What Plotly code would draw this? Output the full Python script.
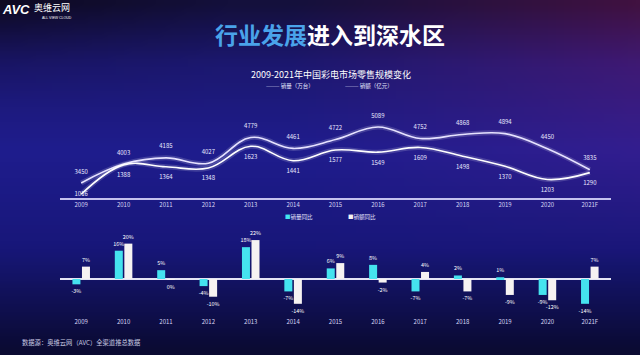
import base64
import struct
import zlib

import plotly.graph_objects as go

years = ["2009", "2010", "2011", "2012", "2013", "2014", "2015", "2016", "2017", "2018", "2019", "2020", "2021F"]
sales_volume = [3450, 4003, 4185, 4027, 4779, 4461, 4722, 5089, 4752, 4868, 4894, 4450, 3835]   # 万台
sales_value = [1016, 1388, 1364, 1348, 1623, 1441, 1577, 1549, 1609, 1498, 1370, 1203, 1290]     # 亿元
volume_yoy = [-3, 16, 5, -4, 18, -7, 6, 8, -7, 2, 1, -9, -14]
value_yoy = [7, 20, -0.4, -10, 22, -14, 9, -2, 4, -7, -9, -12, 7]

FONT = "Noto Sans CJK SC"
W, H = 640, 355


def py(px):
    return 1 - px / H


# ---------- background gradient image (styling only) ----------
def bg_png(w=80, h=45):
    stops = [(0.00, (20, 16, 60)), (0.17, (28, 24, 112)), (0.42, (31, 29, 142)),
             (0.70, (24, 23, 122)), (1.00, (11, 11, 50))]
    rows = []
    for j in range(h):
        t = j / (h - 1)
        for k in range(len(stops) - 1):
            if stops[k][0] <= t <= stops[k + 1][0]:
                u = (t - stops[k][0]) / (stops[k + 1][0] - stops[k][0])
                base = [stops[k][1][c] + u * (stops[k + 1][1][c] - stops[k][1][c]) for c in range(3)]
                break
        row = bytearray([0])
        for i in range(w):
            s = i / (w - 1)
            wr = max(0.0, (s - 0.45) / 0.55) * max(0.0, 1 - t / 0.75)
            wl = max(0.0, (0.35 - s) / 0.35) * max(0.0, 1 - t / 0.3)
            r = base[0] + 45 * wr - 6 * wl
            g = base[1] + 2 * wr - 6 * wl
            b = base[2] + 5 * wr - 25 * wl
            row += bytes([max(0, min(255, int(r))), max(0, min(255, int(g))), max(0, min(255, int(b)))])
        rows.append(bytes(row))
    raw = b"".join(rows)

    def chunk(tag, data):
        c = struct.pack(">I", len(data)) + tag + data
        return c + struct.pack(">I", zlib.crc32(tag + data) & 0xFFFFFFFF)

    png = b"\x89PNG\r\n\x1a\n" + chunk(b"IHDR", struct.pack(">IIBBBBB", w, h, 8, 2, 0, 0, 0)) \
        + chunk(b"IDAT", zlib.compress(raw, 9)) + chunk(b"IEND", b"")
    return "data:image/png;base64," + base64.b64encode(png).decode()


fig = go.Figure()
SMALL = 6
BARTXT = 5.4

# glow under the lines
for vals, ax in ((sales_volume, "y"), (sales_value, "y2")):
    fig.add_trace(go.Scatter(x=years, y=vals, xaxis="x", yaxis=ax, mode="lines",
                             line=dict(color="rgba(255,255,255,0.16)", width=5, shape="spline", smoothing=1.1),
                             hoverinfo="skip", showlegend=False))

# invisible markers only push the value labels away from the line
fig.add_trace(go.Scatter(x=years, y=sales_volume, xaxis="x", yaxis="y", mode="lines+markers+text",
                         name="销量（万台）", text=[str(v) for v in sales_volume], textposition="top center",
                         textfont=dict(size=SMALL, color="#e8e8ff", family=FONT),
                         marker=dict(size=11, opacity=0),
                         line=dict(color="#e6e2ff", width=1.6, shape="spline", smoothing=1.1),
                         cliponaxis=False, showlegend=False))
value_pos = ["middle center"] + ["bottom center"] * (len(years) - 1)
fig.add_trace(go.Scatter(x=years, y=sales_value, xaxis="x", yaxis="y2", mode="lines+markers+text",
                         name="销额（亿元）", text=[str(v) for v in sales_value], textposition=value_pos,
                         textfont=dict(size=SMALL, color="#e8e8ff", family=FONT),
                         marker=dict(size=11, opacity=0),
                         line=dict(color="#ffffff", width=1.6, shape="spline", smoothing=1.1),
                         cliponaxis=False, showlegend=False))

BAR_COLORS = ["#45e3ef", "#f6f2f2"]
fig.add_trace(go.Bar(x=years, y=volume_yoy, xaxis="x2", yaxis="y3", name="销量同比",
                     marker=dict(color=BAR_COLORS[0], line=dict(width=0)),
                     text=[f"{round(v)}%" for v in volume_yoy], textposition="outside",
                     textfont=dict(size=BARTXT, color="#ffffff", family=FONT), constraintext="none",
                     cliponaxis=False, showlegend=False))
fig.add_trace(go.Bar(x=years, y=value_yoy, xaxis="x2", yaxis="y3", name="销额同比",
                     marker=dict(color=BAR_COLORS[1], line=dict(width=0)),
                     text=[f"{round(v)}%" for v in value_yoy], textposition="outside",
                     textfont=dict(size=BARTXT, color="#ffffff", family=FONT), constraintext="none",
                     cliponaxis=False, showlegend=False))

xdom = [60 / W, 611 / W]
axfont = dict(size=SMALL, color="#d6d6f4", family=FONT)

fig.update_layout(
    width=W, height=H,
    margin=dict(l=0, r=0, t=0, b=0),
    paper_bgcolor="#1b1870",
    plot_bgcolor="rgba(0,0,0,0)",
    images=[dict(source=bg_png(), xref="paper", yref="paper", x=0, y=1, sizex=1, sizey=1,
                 xanchor="left", yanchor="top", sizing="stretch", layer="below")],
    font=dict(family=FONT, color="#ffffff"),
    barmode="group", bargap=0.55, bargroupgap=0.16,
    xaxis=dict(domain=xdom, anchor="y", type="category", showline=True, linecolor="#c4c2ee", linewidth=2,
               showgrid=False, ticks="", tickfont=axfont, range=[-0.5, 12.5]),
    yaxis=dict(domain=[py(198), py(108)], anchor="x", range=[3011, 5643], visible=False),
    yaxis2=dict(domain=[py(198), py(108)], anchor="x", overlaying="y", range=[969, 2108], visible=False),
    xaxis2=dict(domain=xdom, anchor="y3", type="category", showline=False, showgrid=False, ticks="",
                tickfont=axfont, range=[-0.5, 12.5], ticklabelstandoff=4),
    yaxis3=dict(domain=[py(313), py(233)], anchor="x2", range=[-19.2, 26], showgrid=False,
                showticklabels=False, zeroline=True, zerolinecolor="#e4e4f4", zerolinewidth=1.5),
    showlegend=False,
)


def note(text, x, y, size, color="#ffffff", xanchor="center", family=FONT):
    fig.add_annotation(text=text, x=x / W, y=py(y), xref="paper", yref="paper", xanchor=xanchor,
                       yanchor="middle", showarrow=False, font=dict(size=size, color=color, family=family))


note("<b><span style='color:#4aa3ea'>行业发展</span>进入到深水区</b>", 330, 34, 23)
note("2009-2021年中国彩电市场零售规模变化", 331, 75, 9)
note("——— 销量（万台）", 264, 86, 5.5, "#e8e8ff", "left")
note("——— 销额（亿元）", 343, 86, 5.5, "#e8e8ff", "left")
note(f"<span style='color:{BAR_COLORS[0]}'>■</span>销量同比", 283, 217, 5.5, "#e8e8ff", "left")
note(f"<span style='color:{BAR_COLORS[1]}'>■</span>销额同比", 346, 217, 5.5, "#e8e8ff", "left")
note("数据源：奥维云网（AVC）全渠道推总数据", 20, 342, 6.3, "#c8c8e0", "left")
note("<b><i>AVC</i></b>", 0, 10, 13, "#ffffff", "left", "Liberation Sans")
note("奥维云网", 32, 8, 9, "#ffffff", "left")
note("ALL VIEW CLOUD", 40, 18, 3.5, "#ffffff", "left", "Liberation Sans")

fig.write_html("out.html", config={"displayModeBar": False},
               post_script="document.body.style.margin='0';document.body.style.overflow='hidden';")
